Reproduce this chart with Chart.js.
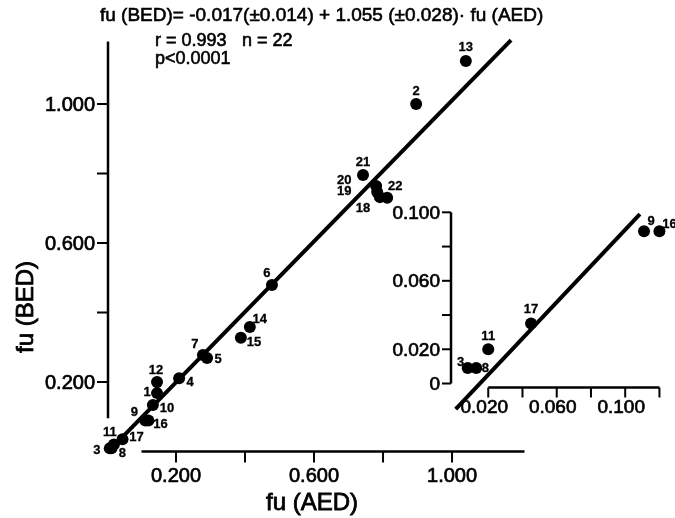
<!DOCTYPE html>
<html>
<head>
<meta charset="utf-8">
<script src="https://cdn.jsdelivr.net/npm/chart.js@4"></script>
<style>
  body { margin: 0; background: #fff; }
  #wrap { position: relative; width: 675px; height: 518px; }
  #wrap canvas { position: absolute; left: 0; top: 0; }
</style>
</head>
<body>
<div id="wrap">
  <canvas id="mainChart" width="675" height="518"></canvas>
  <canvas id="insetChart" width="675" height="518"></canvas>
</div>
<script>
// Subject numbers and unbound fractions
const ids = [1, 2, 3, 4, 5, 6, 7, 8, 9, 10, 11, 12, 13, 14, 15, 16, 17, 18, 19, 20, 21, 22];
const fuAED = [0.145, 0.896, 0.008, 0.209, 0.290, 0.478, 0.278, 0.013, 0.111, 0.133, 0.020,
               0.145, 1.040, 0.414, 0.388, 0.120, 0.045, 0.791, 0.783, 0.780, 0.742, 0.812];
const fuBED = [0.168, 1.000, 0.009, 0.211, 0.269, 0.479, 0.278, 0.009, 0.089, 0.134, 0.020,
               0.200, 1.124, 0.358, 0.327, 0.089, 0.035, 0.732, 0.747, 0.764, 0.796, 0.730];

// regression line end points as drawn
const fitX = [0.002, 1.171];
const fitY = [-0.002, 1.184];
const insetFitX = [0.001, 0.1086];
const insetFitY = [-0.015, 0.099];

// subjects shown again in the inset
const insetIds = [3, 8, 11, 17, 9, 16];

// tick labels
const mainTicks = [0.2, 0.6, 1.0];
const mainTickLabels = ['0.200', '0.600', '1.000'];
const mainMinorTicks = [0.4, 0.8];
const insetYTicks = [0, 0.02, 0.06, 0.1];
const insetYTickLabels = ['0', '0.020', '0.060', '0.100'];
const insetYMinor = [0.04, 0.08];
const insetXTicks = [0.02, 0.06, 0.1];
const insetXTickLabels = ['0.020', '0.060', '0.100'];
const insetXMinor = [0.04, 0.08, 0.12];

const titleText = 'fu (BED)= -0.017(\u00b10.014) + 1.055 (\u00b10.028)\u00b7 fu (AED)';
const statsLine1 = 'r = 0.993';
const statsLine2 = 'n = 22';
const statsLine3 = 'p<0.0001';

// label placement (pixel offsets from the point)
const mainLabelOffset = {
  1: [-10, -1], 2: [0, -13], 3: [-13, 2], 4: [11, 4], 5: [11, 1], 6: [-5, -12],
  7: [-8, -10], 8: [11, 5], 9: [-11, -8], 10: [14, 3], 11: [-4, -12], 12: [-1, -12],
  13: [0, -13], 14: [10, -8], 15: [13, 5], 16: [12, 4], 17: [14, -2], 18: [-17, 11],
  19: [-33, 0], 20: [-32, -6], 21: [0, -12], 22: [8, -11]
};
const insetLabelOffset = {
  3: [-7, -6], 8: [9, 0], 11: [0, -13], 17: [0, -14], 9: [7, -10], 16: [10, -7]
};

const FONT = '"Liberation Sans", Arial, sans-serif';

function pointsFor(list) {
  return list.map(id => ({ x: fuAED[id - 1], y: fuBED[id - 1], id: id }));
}

function lineTo2(a, b) {
  return a.map((v, i) => ({ x: v, y: b[i] }));
}

function drawTick(ctx, x1, y1, x2, y2) {
  ctx.beginPath(); ctx.moveTo(x1, y1); ctx.lineTo(x2, y2); ctx.stroke();
}

// the scan has heavy type, so fill and lightly stroke each text
function heavyText(ctx, txt, x, y, w) {
  ctx.lineWidth = w;
  ctx.strokeText(txt, x, y);
  ctx.fillText(txt, x, y);
}

const pointLabels = {
  id: 'pointLabels',
  afterDatasetsDraw(chart, args, opts) {
    const ctx = chart.ctx;
    const meta = chart.getDatasetMeta(0);
    const data = chart.data.datasets[0].data;
    ctx.save();
    ctx.fillStyle = '#000';
    ctx.strokeStyle = '#000';
    ctx.font = 'bold ' + opts.size + 'px ' + FONT;
    ctx.textAlign = 'center';
    ctx.textBaseline = 'middle';
    meta.data.forEach((el, i) => {
      const id = data[i].id;
      const off = opts.offsets[id] || [0, -12];
      heavyText(ctx, String(id), el.x + off[0], el.y + off[1], 0.3);
    });
    ctx.restore();
  }
};

const mainAxes = {
  id: 'mainAxes',
  afterDraw(chart) {
    const ctx = chart.ctx;
    const x = chart.scales.x, y = chart.scales.y;
    const x0 = x.getPixelForValue(0), y0 = y.getPixelForValue(0);
    ctx.save();
    ctx.strokeStyle = '#000';
    ctx.fillStyle = '#000';
    ctx.lineWidth = 2.5;
    // broken axes
    drawTick(ctx, x0 + 1, y.getPixelForValue(0.096), x0 + 1, y.getPixelForValue(1.18));
    drawTick(ctx, x.getPixelForValue(0.1), y0, x.getPixelForValue(1.21), y0);
    ctx.lineWidth = 2;
    mainTicks.concat(mainMinorTicks).forEach(v => {
      const py = y.getPixelForValue(v);
      drawTick(ctx, x0 + 1, py, x0 - 10, py);
      const px = x.getPixelForValue(v);
      drawTick(ctx, px, y0, px, y0 + 11);
    });
    ctx.font = '20px ' + FONT;
    ctx.textAlign = 'right';
    ctx.textBaseline = 'middle';
    mainTicks.forEach((v, i) => heavyText(ctx, mainTickLabels[i], x0 - 12, y.getPixelForValue(v) + 1, 0.7));
    ctx.textAlign = 'center';
    ctx.textBaseline = 'top';
    mainTicks.forEach((v, i) => heavyText(ctx, mainTickLabels[i], x.getPixelForValue(v), y0 + 15, 0.7));

    // axis titles
    ctx.font = '24px ' + FONT;
    ctx.textAlign = 'center';
    ctx.textBaseline = 'alphabetic';
    heavyText(ctx, 'fu (AED)', 312, 510, 0.8);
    ctx.save();
    ctx.translate(33, 307);
    ctx.rotate(-Math.PI / 2);
    heavyText(ctx, 'fu (BED)', 0, 0, 0.8);
    ctx.restore();

    // equation and statistics
    ctx.font = '19px ' + FONT;
    ctx.textAlign = 'left';
    heavyText(ctx, titleText, 100, 21, 0.6);
    ctx.font = '18px ' + FONT;
    heavyText(ctx, statsLine1, 155, 46, 0.6);
    heavyText(ctx, statsLine2, 242, 46, 0.6);
    heavyText(ctx, statsLine3, 155, 64, 0.6);
    ctx.restore();
  }
};

const insetAxes = {
  id: 'insetAxes',
  afterDraw(chart) {
    const ctx = chart.ctx;
    const x = chart.scales.x, y = chart.scales.y;
    const ax = x.getPixelForValue(0) - 3;
    const ay = y.getPixelForValue(0) + 4;
    ctx.save();
    ctx.strokeStyle = '#000';
    ctx.fillStyle = '#000';
    ctx.lineWidth = 2.5;
    drawTick(ctx, ax, y.getPixelForValue(0), ax, y.getPixelForValue(0.1));
    drawTick(ctx, x.getPixelForValue(0.02), ay, x.getPixelForValue(0.12), ay);
    ctx.lineWidth = 2;
    insetYTicks.concat(insetYMinor).forEach(v => {
      const py = y.getPixelForValue(v);
      drawTick(ctx, ax, py, ax - 9, py);
    });
    insetXTicks.concat(insetXMinor).forEach(v => {
      const px = x.getPixelForValue(v);
      drawTick(ctx, px, ay, px, ay + 10);
    });
    ctx.font = '19px ' + FONT;
    ctx.textAlign = 'right';
    ctx.textBaseline = 'middle';
    insetYTicks.forEach((v, i) => heavyText(ctx, insetYTickLabels[i], ax - 11, y.getPixelForValue(v) + 1, 0.7));
    ctx.textAlign = 'center';
    ctx.textBaseline = 'top';
    insetXTicks.forEach((v, i) => heavyText(ctx, insetXTickLabels[i], x.getPixelForValue(v) - 4, ay + 11, 0.7));
    ctx.restore();
  }
};

function scatterConfig(points, fit, pad, xr, yr, radius, labelOpts, axesPlugin) {
  return {
    type: 'scatter',
    data: {
      datasets: [
        {
          data: points,
          backgroundColor: '#000',
          borderColor: '#000',
          pointRadius: radius,
          pointBorderWidth: 0,
          clip: false
        },
        {
          data: fit,
          showLine: true,
          borderColor: '#000',
          borderWidth: 4,
          pointRadius: 0,
          clip: false
        }
      ]
    },
    options: {
      responsive: false,
      animation: false,
      devicePixelRatio: 1,
      layout: { padding: pad },
      scales: {
        x: { type: 'linear', min: xr[0], max: xr[1], display: false },
        y: { type: 'linear', min: yr[0], max: yr[1], display: false }
      },
      plugins: {
        legend: { display: false },
        tooltip: { enabled: false },
        pointLabels: labelOpts
      }
    },
    plugins: [pointLabels, axesPlugin]
  };
}

// main panel: origin at (107, 451.5), ~345 px per unit
new Chart(document.getElementById('mainChart'), scatterConfig(
  pointsFor(ids),
  lineTo2(fitX, fitY),
  { left: 107, right: 150.5, top: 34.5, bottom: 66.5 },
  [0, 1.21], [0, 1.2],
  6,
  { size: 13, offsets: mainLabelOffset },
  mainAxes
));

// inset: origin at (454, 383.5), ~1712 px per unit
new Chart(document.getElementById('insetChart'), scatterConfig(
  pointsFor(insetIds),
  lineTo2(insetFitX, insetFitY),
  { left: 454, right: 7, top: 208.9, bottom: 107.1 },
  [0, 0.125], [-0.016, 0.102],
  6,
  { size: 13, offsets: insetLabelOffset },
  insetAxes
));
</script>
</body>
</html>
